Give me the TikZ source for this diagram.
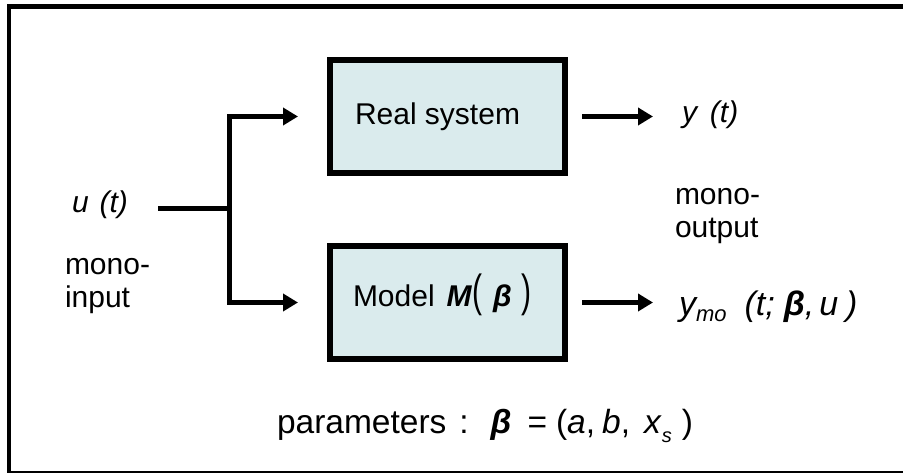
\documentclass[tikz,border=0pt]{standalone}
\usepackage{fontspec}
\setmainfont{Liberation Sans}
\usetikzlibrary{arrows.meta}
\definecolor{boxfill}{RGB}{218,235,237}
\newcommand{\bigpar}[1]{\scalebox{1}[1.5]{#1}}
\newcommand{\fsz}[1]{\fontsize{#1}{#1}\selectfont}
\begin{document}
\begin{tikzpicture}[x=1pt,y=-1pt,
  every node/.style={inner sep=0pt, outer sep=0pt, font=\fontsize{30}{33}\selectfont},
  blockbox/.style={draw, line width=6pt, fill=boxfill, minimum width=235pt, minimum height=113pt},
  wire/.style={line width=5pt},
  arr/.style={line width=5pt, -{Triangle[length=15pt,width=17pt]}},
  lbl/.style={anchor=base west}
]
\useasboundingbox (0,0) rectangle (903,473);
\clip (0,0) rectangle (903,473);
% frame (its right side lies outside the picture)
\draw[line width=4.5pt] (960,6.5) -- (9,6.5) -- (9,473) -- (960,473);
% blocks
\node[blockbox] (real) at (447.5,116.5) {};
\node[blockbox] (model) at (447.5,302.5) {};
\node[lbl] (realtxt) at (355,125) {Real system};
\node[lbl] (modeltxt) at (353,307) {Model\hspace{12pt}\textbf{\itshape M}\bigpar{(}\hspace{11pt}\textbf{\itshape β}\hspace{10pt}\bigpar{)}};
% input side
\node[lbl] (u) at (72,213) {\itshape u\hspace{11pt}(t)};
\node[lbl] (mi) at (65,275) {\begin{tabular}[t]{@{}l@{}}mono-\\input\end{tabular}};
\coordinate (in) at (158,208.5);
\coordinate (j) at (229,208.5);
\draw[wire] (in) -- (j);
\draw[arr, shorten >=32pt] (j) |- (real.west);
\draw[arr, shorten >=32pt] (j) |- (model.west);
% outputs
\coordinate (ry) at (653,116.5);
\coordinate (my) at (653,302.5);
\draw[arr, shorten <=17pt] (real.east) -- (ry);
\draw[arr, shorten <=17pt] (model.east) -- (my);
\node[lbl] (y) at (682,123) {\itshape y\hspace{13pt}(t)};
\node[lbl] (mo) at (675,205) {\begin{tabular}[t]{@{}l@{}}mono-\\output\end{tabular}};
\node[lbl] (ymo) at (679,316) {\fsz{34}\itshape y\raisebox{-6pt}{\fsz{22}mo}\hspace{18pt}(t;\hspace{9pt}\textbf{β},\hspace{5pt}u\hspace{8pt})};
% parameters
\node[lbl, font=\fsz{33.5}] (par) at (277,433) {parameters\hspace{13pt}:\hspace{22pt}\textbf{\itshape β}\hspace{16pt}=\hspace{9pt}(\textit{a},\hspace{7pt}\textit{b},\hspace{14pt}\textit{x}\raisebox{-9pt}{\fsz{20}\itshape s}\hspace{10pt})};
\end{tikzpicture}
\end{document}
